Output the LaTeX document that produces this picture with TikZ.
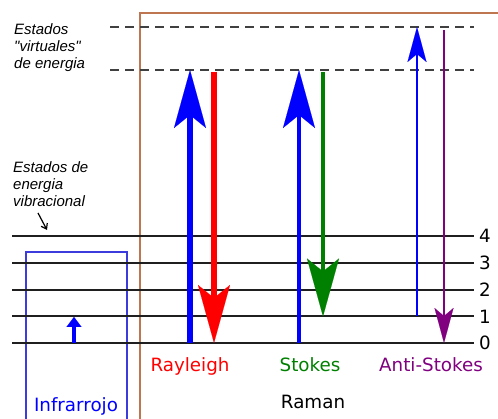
\documentclass[tikz,border=0pt]{standalone}
\usepackage{fontspec}
\setmainfont{DejaVu Sans}
\newfontfamily\notefont{Liberation Sans}
\usetikzlibrary{arrows.meta}
\definecolor{framebrown}{RGB}{190,118,80}
\definecolor{irblue}{RGB}{60,60,220}
\definecolor{stgreen}{RGB}{0,128,0}
\definecolor{aspurple}{RGB}{128,0,128}
\begin{document}
\begin{tikzpicture}[x=1pt,y=-1pt,
  lev/.style={line width=2pt, draw=black!88},
  virt/.style={line width=2pt, draw=black!75, dash pattern=on 9pt off 6pt},
  lbl/.style={font=\fontsize{18.3}{21}\selectfont, inner sep=0pt, anchor=base},
  num/.style={font=\fontsize{18.3}{21}\selectfont, inner sep=0pt, anchor=west},
  note/.style={font=\notefont\itshape\fontsize{15}{17}\selectfont, inner sep=0pt, anchor=base west},
  bighead/.style={-{Stealth[length=58pt,width=32pt,inset=13pt,line width=0.1pt]}},
  smallhead/.style={-{Stealth[length=35pt,width=19pt,inset=8pt,line width=0.1pt]}},
  irhead/.style={-{Triangle[length=10pt,width=15pt,line width=0.1pt]}}
]
\useasboundingbox (0,0) rectangle (498,419);
% frames
\draw[framebrown, line width=1.5pt] (140,420) -- (140,13) -- (499,13);
\draw[irblue, line width=1.3pt] (26,421) -- (26,252) -- (127,252) -- (127,421);
% virtual levels
\coordinate (v1a) at (110,27); \coordinate (v1b) at (474,27);
\coordinate (v0a) at (110,70); \coordinate (v0b) at (474,70);
\draw[virt] (v1a) -- (v1b);
\draw[virt] (v0a) -- (v0b);
% vibrational levels
\foreach \i/\y in {0/343,1/316.5,2/290,3/263,4/236}{
  \coordinate (La\i) at (12,\y);
  \coordinate (Lb\i) at (474,\y);
  \draw[lev] (La\i) -- (Lb\i);
  \node[num] (n\i) at (479,\y) {\i};
}
% infrared
\coordinate (ir0) at (74,343); \coordinate (ir1) at (74,317);
\draw[blue, line width=4pt, irhead] (ir0) -- (ir1);
% Rayleigh
\coordinate (ra0) at (190,343); \coordinate (ra1) at (190,70);
\draw[blue, line width=6pt, bighead] (ra0) -- (ra1);
\coordinate (rb0) at (214,72); \coordinate (rb1) at (214,343);
\draw[red, line width=6pt, bighead] (rb0) -- (rb1);
% Stokes
\coordinate (sa0) at (299,343); \coordinate (sa1) at (299,70);
\draw[blue, line width=3.5pt, bighead] (sa0) -- (sa1);
\coordinate (sb0) at (323,72); \coordinate (sb1) at (323,316.5);
\draw[stgreen, line width=3.5pt, bighead] (sb0) -- (sb1);
% Anti-Stokes
\coordinate (aa0) at (417,316.5); \coordinate (aa1) at (417,27);
\draw[blue, line width=2pt, smallhead] (aa0) -- (aa1);
\coordinate (ab0) at (444,30); \coordinate (ab1) at (444,343);
\draw[aspurple, line width=2pt, smallhead] (ab0) -- (ab1);
% labels
\node[lbl, text=red] (tRay) at (190,372) {Rayleigh};
\node[lbl, text=stgreen] (tSt) at (310,372) {Stokes};
\node[lbl, text=aspurple] (tAS) at (431,372) {Anti-Stokes};
\node[lbl] (tRam) at (313,409) {Raman};
\node[lbl, text=blue] (tIR) at (76,412) {Infrarrojo};
% notes
\node[note] (e1) at (14,35) {Estados};
\node[note] (e2) at (14,52) {"virtuales"};
\node[note] (e3) at (14,69) {de energia};
\node[note] (f1) at (13,173) {Estados de};
\node[note] (f2) at (13,190) {energia};
\node[note] (f3) at (13,207) {vibracional};
\coordinate (pa0) at (38,213); \coordinate (pa1) at (47,230);
\draw[black, line width=1.2pt, -{Straight Barb[length=5pt,width=7pt]}] (pa0) -- (pa1);
\end{tikzpicture}
\end{document}
